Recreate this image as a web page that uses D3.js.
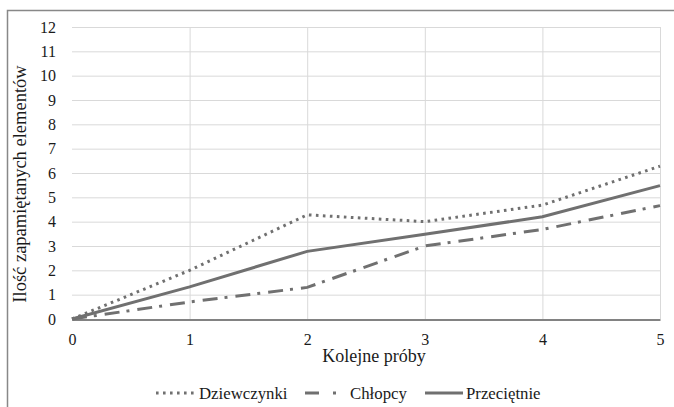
<!DOCTYPE html>
<html>
<head>
<meta charset="utf-8">
<script src="https://cdn.jsdelivr.net/npm/d3@7"></script>
</head>
<body style="margin:0">
<div></div>
<script>
const WIDTH = 674;
const HEIGHT = 407;
const FONT = "'Liberation Serif'";
// data
const trials = [0, 1, 2, 3, 4, 5];
const girls = [0, 2, 4.28, 4, 4.68, 6.28];
const boys = [0, 0.7, 1.3, 3, 3.68, 4.66];
const average = [0, 1.32, 2.78, 3.48, 4.2, 5.48];
const seriesNames = ['Dziewczynki', 'Chłopcy', 'Przeciętnie'];
const yTicks = d3.range(0, 13);

const LINE_COLOR = '#707070';
const TEXT_COLOR = '#1a1a1a';
const dashes = ['2.6 4.4', '15 7 3 8', null];

const svg = d3.select('div').append('svg')
    .attr('width', WIDTH)
    .attr('height', HEIGHT)
    .style('font-family', FONT);

// outer frame (cut at right/bottom like the source)
svg.append('path')
    .attr('d', 'M7.5,' + HEIGHT + 'V10.5H' + WIDTH)
    .attr('fill', 'none')
    .attr('stroke', '#888')
    .attr('stroke-width', 1.5);

const x = d3.scaleLinear().domain([0, 5]).range([72, 660]);
const y = d3.scaleLinear().domain([0, 12]).range([319, 27]);

// grid
const grid = svg.append('g');
grid.selectAll('.hg').data(yTicks.slice(1))
    .join('line')
    .attr('x1', x(0)).attr('x2', x(5))
    .attr('y1', d => y(d) + 0.5).attr('y2', d => y(d) + 0.5)
    .attr('stroke', '#d9d9d9');
grid.selectAll('.vg').data(trials.slice(1))
    .join('line')
    .attr('x1', d => x(d) + 0.5).attr('x2', d => x(d) + 0.5)
    .attr('y1', y(12)).attr('y2', y(0))
    .attr('stroke', '#d9d9d9');

// y axis labels
svg.append('g')
    .attr('transform', 'translate(' + x(0) + ',0)')
    .call(d3.axisLeft(y).tickValues(yTicks).tickSize(0).tickPadding(16))
    .call(g => g.attr('font-family', null).attr('font-size', null))
    .call(g => g.select('.domain').remove())
    .call(g => g.selectAll('text').attr('font-size', 16).attr('fill', TEXT_COLOR)
        .style('font-family', FONT));

// x axis
svg.append('g')
    .attr('transform', 'translate(0,' + (y(0) + 0.5) + ')')
    .call(d3.axisBottom(x).tickValues(trials).tickFormat(d3.format('d')).tickSize(0).tickPadding(14))
    .call(g => g.attr('font-family', null).attr('font-size', null))
    .call(g => g.select('.domain').attr('stroke', '#595959').attr('stroke-width', 1.3))
    .call(g => g.selectAll('text').attr('font-size', 16).attr('fill', TEXT_COLOR)
        .style('font-family', FONT));

// axis titles
svg.append('text')
    .attr('x', 374).attr('y', 362)
    .attr('text-anchor', 'middle')
    .attr('font-size', 18).attr('fill', TEXT_COLOR)
    .style('font-family', FONT)
    .text('Kolejne próby');
svg.append('text')
    .attr('transform', 'translate(26,184) rotate(-90)')
    .attr('text-anchor', 'middle')
    .attr('font-size', 18.5).attr('fill', TEXT_COLOR)
    .style('font-family', FONT)
    .text('Ilość zapamiętanych elementów');

// lines
const line = d3.line().x((d, i) => x(trials[i])).y(d => y(d));
const allSeries = [girls, boys, average];
svg.append('g').selectAll('path').data(allSeries)
    .join('path')
    .attr('d', d => line(d))
    .attr('fill', 'none')
    .attr('stroke', LINE_COLOR)
    .attr('stroke-width', 3)
    .attr('stroke-dasharray', (d, i) => dashes[i]);

// legend
const legendX = [156, 305, 425];
const legendLen = [39, 32, 38];
const legendText = [43, 45, 41];
const legend = svg.append('g').selectAll('g').data(seriesNames)
    .join('g')
    .attr('transform', (d, i) => 'translate(' + legendX[i] + ',393)');
legend.append('line')
    .attr('x1', 0).attr('x2', (d, i) => legendLen[i])
    .attr('y1', 0).attr('y2', 0)
    .attr('stroke', LINE_COLOR)
    .attr('stroke-width', 3)
    .attr('stroke-dasharray', (d, i) => i == 1 ? '14 14 3 20' : dashes[i]);
legend.append('text')
    .attr('x', (d, i) => legendText[i])
    .attr('y', 5.5)
    .attr('font-size', 16.8).attr('fill', TEXT_COLOR)
    .style('font-family', FONT)
    .text(d => d);
</script>
</body>
</html>
